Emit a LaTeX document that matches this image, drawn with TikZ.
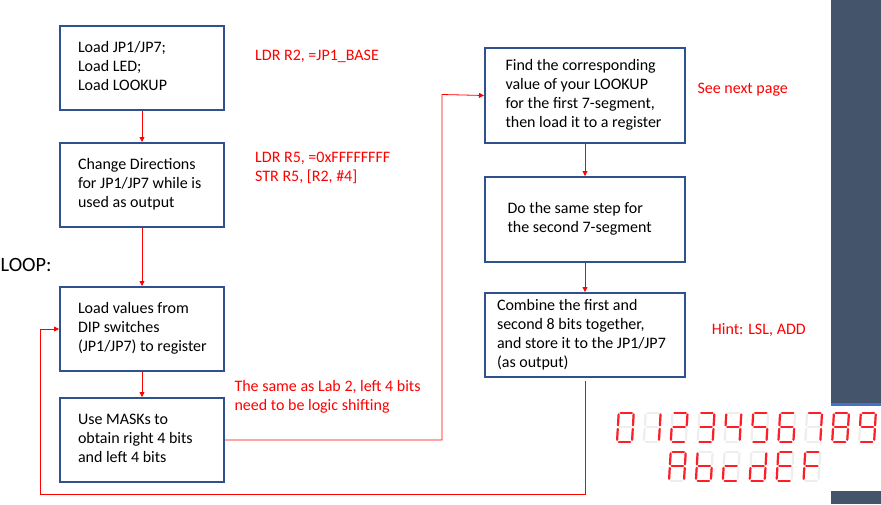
\documentclass[tikz,border=0pt]{standalone}
\usepackage{fontspec}
\setmainfont{Carlito}
\usetikzlibrary{arrows.meta}
\definecolor{boxblue}{RGB}{47,82,143}
\definecolor{barcol}{RGB}{68,84,106}
\definecolor{stripblue}{RGB}{68,114,196}
\definecolor{segred}{RGB}{255,30,40}
\definecolor{segoff}{RGB}{238,238,238}
\definecolor{linered}{RGB}{255,0,0}
\newcommand{\boxlines}[2]{\makebox[#1][l]{\begin{tabular}{@{}l@{}}#2\end{tabular}}}
\newcommand{\sevseg}[3]{%
  \begin{scope}[shift={(#1,-#2)}, xslant=0.06]
    \coordinate (sega1) at (1.8,29);   \coordinate (sega2) at (13.2,29);
    \coordinate (segb1) at (15,27.2);  \coordinate (segb2) at (15,16.3);
    \coordinate (segc1) at (15,12.7);  \coordinate (segc2) at (15,1.8);
    \coordinate (segd1) at (1.8,0);    \coordinate (segd2) at (13.2,0);
    \coordinate (sege1) at (0,1.8);    \coordinate (sege2) at (0,12.7);
    \coordinate (segf1) at (0,16.3);   \coordinate (segf2) at (0,27.2);
    \coordinate (segg1) at (1.8,14.5); \coordinate (segg2) at (13.2,14.5);
    \foreach \s in {a,b,c,d,e,f,g} \draw[segdim] (seg\s1) -- (seg\s2);
    \foreach \s in {#3} \draw[seglit] (seg\s1) -- (seg\s2);
  \end{scope}}
\begin{document}
\begin{tikzpicture}[x=1pt,y=1pt,
  font=\fontsize{16}{19}\selectfont,
  box/.style={draw=boxblue, line width=2pt, anchor=north west,
    minimum height=84pt, inner ysep=0pt, text=black},
  redtxt/.style={text=linered, anchor=base west, align=left, inner sep=0pt},
  conn/.style={draw=linered, line width=0.8pt},
  arr/.style={conn, -{Triangle[length=5pt,width=5pt]}},
  seglit/.style={draw=segred, line width=2.2pt, line cap=round},
  segdim/.style={draw=segoff, line width=2.2pt, line cap=round}]
\useasboundingbox (0,0) rectangle (881,-504);
\fill[white] (0,0) rectangle (881,-504);
% right bar
\fill[barcol] (831,0) rectangle (881,-402.7);
\fill[stripblue] (831,-402.7) rectangle (881,-406);
\fill[barcol] (831,-491) rectangle (881,-504);

% boxes
\node[box, inner xsep=18pt] (box1) at (59,-25)
  {\boxlines{128pt}{Load JP1/JP7;\\Load LED;\\Load LOOKUP}};
\node[box, inner xsep=18pt] (box2) at (59,-142)
  {\boxlines{128pt}{Change Directions\\for JP1/JP7 while is\\used as output}};
\node[box, inner xsep=18pt] (box3) at (59,-286)
  {\boxlines{128pt}{Load values from\\DIP switches\\(JP1/JP7) to register}};
\node[box, inner xsep=18pt] (box4) at (59,-397)
  {\boxlines{128pt}{Use MASKs to\\obtain right 4 bits\\and left 4 bits}};
\node[box, inner xsep=20.5pt, minimum height=95pt] (box5) at (484,-47)
  {\boxlines{159pt}{Find the corresponding\\value of your LOOKUP\\for the first 7-segment,\\then load it to a register}};
\node[box, inner xsep=22.5pt, minimum height=85pt] (box6) at (484,-176)
  {\boxlines{155pt}{Do the same step for\\the second 7-segment}};
\node[box, inner xsep=12pt, minimum height=84pt] (box7) at (484,-292)
  {\boxlines{176pt}{Combine the first and\\second 8 bits together,\\and store it to the JP1/JP7\\(as output)}};

% red notes
\node[redtxt] (t1) at (255,-60) {LDR R2, =JP1\_BASE};
\node[redtxt] (t2) at (255,-181.7) {LDR R5, =0xFFFFFFFF\\STR R5, [R2, \#4]};
\node[redtxt] (t3) at (234.3,-410) {The same as Lab 2, left 4 bits\\need to be logic shifting};
\node[redtxt] (t4) at (697.3,-93.3) {See next page};
\node[redtxt] (t5) at (711.7,-334) {Hint: LSL, ADD};
\node[anchor=base west, inner sep=0pt, font=\fontsize{20.3}{23}\selectfont] (loop) at (0.5,-271.7) {LOOP:};

% connectors
\coordinate (j1) at (442,-94.5);
\coordinate (lb) at (40,-494.3);
\draw[arr] (box1.south) -- (box2.north);
\draw[arr] (box2.south) -- (box3.north);
\draw[arr] (box3.south) -- (box4.north);
\draw[arr] (box4.east) -| (j1) -- (box5.west);
\draw[arr] (box5.south) -- (box6.north);
\draw[arr] (box6.south) -- (box7.north);
\draw[arr] ([yshift=-3pt]box7.south) |- (lb) |- (box3.west);

% seven segment digits
\sevseg{617}{441.6}{a,b,c,d,e,f}
\sevseg{643.9}{441.6}{b,c}
\sevseg{670.8}{441.6}{a,b,g,e,d}
\sevseg{697.7}{441.6}{a,b,g,c,d}
\sevseg{724.6}{441.6}{f,g,b,c}
\sevseg{751.5}{441.6}{a,f,g,c,d}
\sevseg{778.4}{441.6}{a,f,g,e,d,c}
\sevseg{805.3}{441.6}{a,b,c}
\sevseg{832.2}{441.6}{a,b,c,d,e,f,g}
\sevseg{859.1}{441.6}{a,b,c,d,f,g}
\sevseg{669}{480.6}{a,b,c,e,f,g}
\sevseg{695.9}{480.6}{f,e,d,c,g}
\sevseg{722.8}{480.6}{g,e,d}
\sevseg{749.7}{480.6}{b,c,d,e,g}
\sevseg{776.6}{480.6}{a,f,g,e,d}
\sevseg{803.5}{480.6}{a,f,g,e}
\end{tikzpicture}
\end{document}
